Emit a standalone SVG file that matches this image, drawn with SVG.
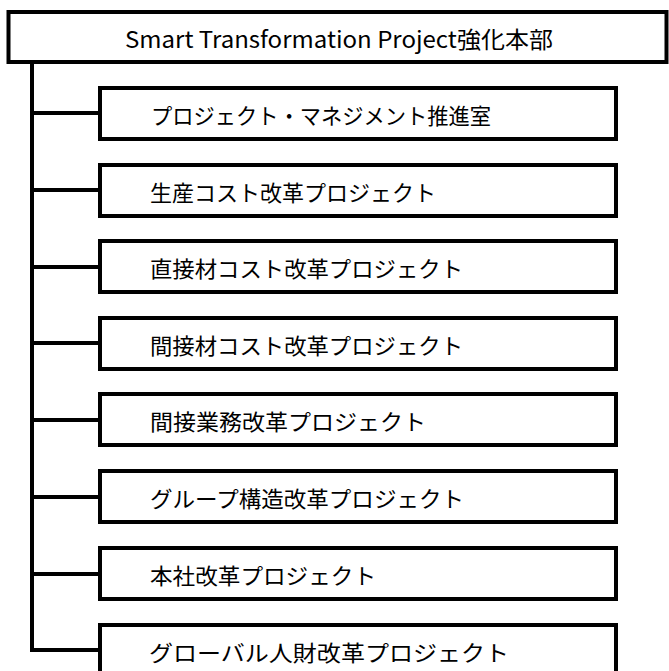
<svg xmlns="http://www.w3.org/2000/svg" width="669" height="671" viewBox="0 0 669 671">
<style>
.box{fill:#fff;stroke:#000;stroke-width:4}
.ln{stroke:#000;stroke-width:4;fill:none}
.t{font-family:"Noto Sans CJK JP","Noto Sans",sans-serif;font-size:22px;fill:#000}
.tt{font-family:"Noto Sans CJK JP","Noto Sans",sans-serif;font-size:23px;fill:#000}
</style>
<rect width="669" height="671" fill="#fff"/>
<g id="connectors">
<line class="ln" x1="32" y1="62" x2="32" y2="652" stroke-width="5"/>
<line class="ln" x1="30" y1="113" x2="100" y2="113"/>
<line class="ln" x1="30" y1="190" x2="100" y2="190"/>
<line class="ln" x1="30" y1="267" x2="100" y2="267"/>
<line class="ln" x1="30" y1="343" x2="100" y2="343"/>
<line class="ln" x1="30" y1="420" x2="100" y2="420"/>
<line class="ln" x1="30" y1="497" x2="100" y2="497"/>
<line class="ln" x1="30" y1="574" x2="100" y2="574"/>
<line class="ln" x1="30" y1="650" x2="100" y2="650"/>
</g>
<g id="root">
<rect class="box" x="8.5" y="12" width="658" height="50"/>
<text class="tt" x="125" y="48" textLength="428" lengthAdjust="spacingAndGlyphs">Smart Transformation Project強化本部</text>
</g>
<g id="n1">
<rect class="box" x="100" y="88" width="516" height="51"/>
<text class="t" x="151" y="123.5" textLength="340" lengthAdjust="spacingAndGlyphs">プロジェクト・マネジメント推進室</text>
</g>
<g id="n2">
<rect class="box" x="100" y="165" width="516" height="51"/>
<text class="t" x="150" y="200.5" textLength="286" lengthAdjust="spacingAndGlyphs">生産コスト改革プロジェクト</text>
</g>
<g id="n3">
<rect class="box" x="100" y="241" width="516" height="51"/>
<text class="t" x="150" y="276.5" textLength="313" lengthAdjust="spacingAndGlyphs">直接材コスト改革プロジェクト</text>
</g>
<g id="n4">
<rect class="box" x="100" y="318" width="516" height="51"/>
<text class="t" x="150" y="353.5" textLength="313" lengthAdjust="spacingAndGlyphs">間接材コスト改革プロジェクト</text>
</g>
<g id="n5">
<rect class="box" x="100" y="394" width="516" height="51"/>
<text class="t" x="150" y="429.5" textLength="276" lengthAdjust="spacingAndGlyphs">間接業務改革プロジェクト</text>
</g>
<g id="n6">
<rect class="box" x="100" y="471" width="516" height="51"/>
<text class="t" x="150" y="506.5" textLength="314" lengthAdjust="spacingAndGlyphs">グループ構造改革プロジェクト</text>
</g>
<g id="n7">
<rect class="box" x="100" y="548" width="516" height="51"/>
<text class="t" x="150" y="583.5" textLength="226" lengthAdjust="spacingAndGlyphs">本社改革プロジェクト</text>
</g>
<g id="n8">
<rect class="box" x="100" y="625" width="516" height="51"/>
<text class="t" x="149" y="660.5" textLength="360" lengthAdjust="spacingAndGlyphs">グローバル人財改革プロジェクト</text>
</g>
</svg>
